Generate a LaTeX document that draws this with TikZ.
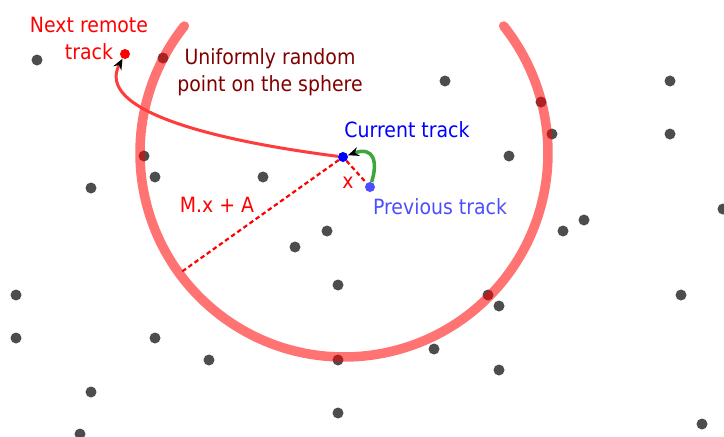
\documentclass[tikz,border=0pt]{standalone}
\usepackage{fontspec}
\setmainfont{DejaVu Sans}[FakeStretch=0.9]
\usetikzlibrary{arrows.meta}
\definecolor{dotgray}{HTML}{4D4D4D}
\definecolor{arcred}{HTML}{FF0000}
\definecolor{curvered}{HTML}{FF3B3B}
\definecolor{maroon}{HTML}{800000}
\definecolor{prevblue}{HTML}{4D4DFF}
\definecolor{greenc}{HTML}{3FA53F}
\pgfdeclarelayer{bg}
\pgfdeclarelayer{mid}
\pgfsetlayers{bg,mid,main}
\begin{document}
\begin{tikzpicture}[x=1pt,y=-1pt,
  dot/.style={circle,fill=dotgray,inner sep=0pt,minimum size=11pt},
  cdot/.style={circle,fill=#1,inner sep=0pt,minimum size=10pt},
  lbl/.style={font=\fontsize{21}{27}\selectfont,inner sep=0pt,align=center},
  dashln/.style={red,line width=2.2pt,dash pattern=on 4.5pt off 3pt},
  tip/.style={-{Stealth[black,length=11pt,width=9pt]}}]
\useasboundingbox (0,0) rectangle (724,437);
\begin{pgfonlayer}{bg}
\foreach \x/\y [count=\i] in {37/60,163/58,445/81,541/102,552/134,670/81,670/134,144/156,509/156,155/177,263/177,91/188,723/209,584/220,563/231,327/231,295/247,338/285,488/295,499/306,16/295,681/295,16/338,155/338,209/360,338/360,434/349,499/370,91/392,338/413,80/434,702/424}
  \node[dot] (d\i) at (\x,\y) {};
\coordinate (ctr) at (344,153);
\draw[arcred,opacity=0.55,line width=9.5pt,line cap=round]
  (ctr) ++(141.5:204pt) arc[start angle=141.5,end angle=398.5,radius=204pt];
\end{pgfonlayer}
\node[cdot=blue] (cur) at (343,157) {};
\node[cdot=prevblue] (prev) at (370,187) {};
\node[cdot=red] (next) at (125,54) {};
\coordinate (mend) at (180,273);
\begin{pgfonlayer}{mid}
\draw[dashln] (cur) -- (mend);
\draw[dashln] (cur) -- (prev);
\draw[curvered,line width=3pt,tip] (cur) .. controls (210,140) and (95,110) .. (next);
\draw[greenc,line width=3.5pt,tip] (prev) .. controls (378,162) and (374,146) .. (cur);
\end{pgfonlayer}
\node[lbl,text=red] (tnext) at (89,38) {Next remote\\track};
\node[lbl,text=maroon] (tunif) at (270,72) {Uniformly random\\point on the sphere};
\node[lbl,text=blue] (tcur) at (407,130) {Current track};
\node[lbl,text=prevblue] (tprev) at (440,207) {Previous track};
\node[lbl,text=red] (tmx) at (217,205) {M.x + A};
\node[lbl,text=red] (tx) at (348,183) {x};
\end{tikzpicture}
\end{document}
